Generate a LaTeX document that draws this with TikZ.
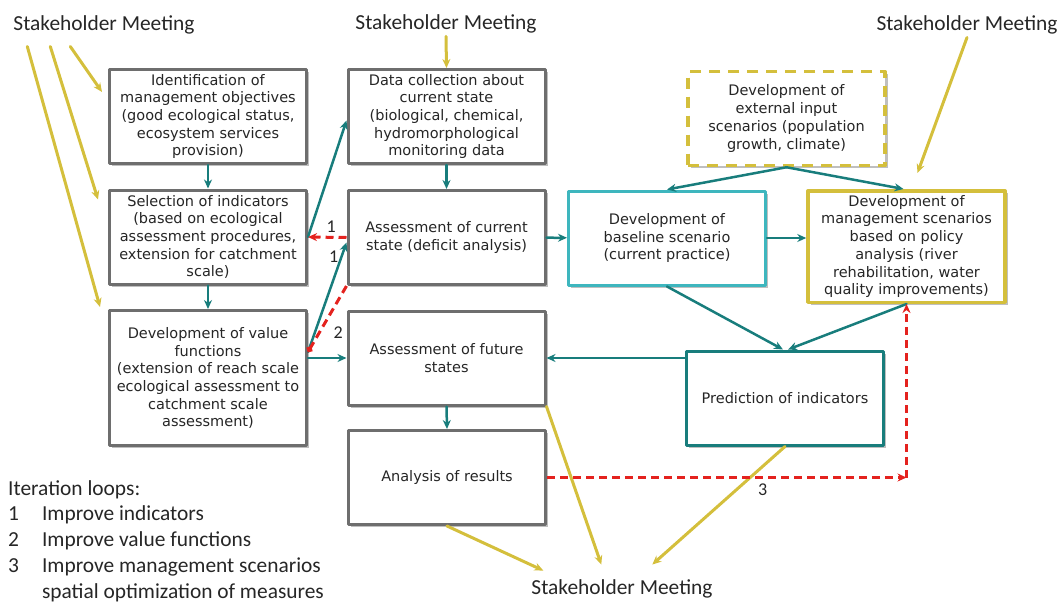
\documentclass[tikz,border=0pt]{standalone}
\usepackage{fontspec}
\setmainfont{DejaVu Sans}
\newfontfamily\labfont{Carlito}
\usetikzlibrary{calc,shadows,arrows.meta}
\definecolor{boxgray}{RGB}{110,110,110}
\definecolor{tealc}{RGB}{24,125,124}
\definecolor{cyanc}{RGB}{62,182,190}
\definecolor{yelc}{RGB}{212,191,60}
\definecolor{redc}{RGB}{228,34,30}
\tikzset{
  box/.style={draw=boxgray,line width=3pt,fill=white,minimum width=197pt,minimum height=94pt,
    align=center,inner sep=0pt,text=black!85,font=\fontsize{14.5}{17.7}\selectfont,
    drop shadow={shadow xshift=2.5pt,shadow yshift=-2.5pt,fill=black,opacity=.25}},
  meet/.style={inner sep=0pt,text=black!85,font=\labfont\fontsize{21.4}{25.8}\selectfont},
  num/.style={inner sep=1pt,text=black!85,font=\labfont\fontsize{18}{20}\selectfont},
  tarr/.style={->,draw=tealc,line width=2.5pt},
  yarr/.style={->,draw=yelc,line width=3pt},
  rarr/.style={->,draw=redc,line width=3pt,line cap=butt,dash pattern=on 8pt off 5pt},
}
\begin{document}
\begin{tikzpicture}[x=1pt,y=-1pt,>={Stealth[length=9pt,width=8pt]},line join=round,line cap=round]
\useasboundingbox (0,0) rectangle (1064,603);
% meetings
\node[meet] (skl) at (104,25) {Stakeholder Meeting};
\node[meet] (skm) at (446,24) {Stakeholder Meeting};
\node[meet] (skr) at (967,25) {Stakeholder Meeting};
\node[meet] (skb) at (622,589) {Stakeholder Meeting};
% boxes
\node[box] (obj) at (208,116.5) {Identification of\\management objectives\\(good ecological status,\\ecosystem services\\provision)};
\node[box] (ind) at (208,237) {Selection of indicators\\(based on ecological\\assessment procedures,\\extension for catchment\\scale)};
\node[box,minimum height=135pt] (val) at (208,378) {Development of value\\functions\\(extension of reach scale\\ecological assessment to\\catchment scale\\assessment)};
\node[box] (data) at (446.5,116.5) {Data collection about\\current state\\(biological, chemical,\\hydromorphological\\monitoring data};
\node[box] (cur) at (446.5,237.5) {Assessment of current\\state (deficit analysis)};
\node[box] (fut) at (446.5,358) {Assessment of future\\states};
\node[box] (res) at (447,477.5) {Analysis of results};
\node[box,draw=cyanc] (base) at (667,238) {Development of\\baseline scenario\\(current practice)};
\node[box,draw=yelc,line width=3.5pt,line cap=butt,dash pattern=on 11pt off 8pt] (ext) at (786.5,118.5) {Development of\\external input\\scenarios (population\\growth, climate)};
\node[box,draw=yelc,line width=3.5pt,minimum height=111.5pt] (mgmt) at (906.5,246.5) {Development of\\management scenarios\\based on policy\\analysis (river\\rehabilitation, water\\quality improvements)};
\node[box,draw=tealc] (pred) at (785,398) {Prediction of indicators};
% stakeholder input
\draw[yarr] ($(skl.south west)+(14,12)$) -- ($(val.north west)+(-8,-2)$);
\draw[yarr] ($(skl.south west)+(37,12)$) -- ($(ind.north west)+(-10,11)$);
\draw[yarr] ($(skl.south west)+(57,12)$) -- ($(obj.north west)+(-6,24)$);
\draw[yarr] ($(skm.south)+(0,3)$) -- (data.north);
\draw[yarr] ($(skr.south)+(0,3)$) -- ($(mgmt.north)+(11,-16)$);
\draw[yarr] (res.south) -- ($(skb.north west)+(12,-9)$);
\draw[yarr] (fut.south east) -- ($(skb.north west)+(70,-15)$);
\draw[yarr] (pred.south) -- ($(skb.north west)+(121,-15)$);
% work flow
\draw[tarr] (obj) -- (ind);
\draw[tarr] (ind) -- (val);
\draw[tarr] (data) -- (cur);
\draw[tarr] (fut.south) -- (res.north);
\draw[tarr] (cur) -- (base);
\draw[tarr] (base.east) -- (base.east -| mgmt.west);
\draw[tarr] (ind.east) -- ([yshift=-4pt]data.west);
\draw[tarr] ([yshift=26pt]val.east) -- ([yshift=-5pt]cur.west) node[pos=.87,left=1pt,num] {1};
\draw[tarr] (fut.west -| val.east) -- (fut.west);
\draw[tarr] (fut.east -| pred.west) -- (fut.east);
\draw[tarr] (ext.south) -- (base.north);
\draw[tarr] (ext.south) -- ([xshift=-3pt]mgmt.north);
\draw[tarr] (base.south) -- ([xshift=-2pt]pred.north);
\draw[tarr] (mgmt.south) -- ([xshift=3pt]pred.north);
% iteration loops
\coordinate (c3) at (mgmt.south |- res.east);
\draw[rarr] (cur.west) -- (ind.east) node[pos=.4,above=2pt,num] {1};
\draw[rarr,-{Circle[length=6pt]}] (cur.south west) -- ([yshift=26pt]val.east) node[pos=.71,right=12pt,num] {2};
\draw[rarr] (res.east) -- (c3) node[pos=.6,below=4pt,num] {3};
\draw[rarr] (c3) -- (mgmt.south);
% legend
\node[meet,anchor=base west] (legend) at (8,495) {\begin{tabular}[t]{@{}l@{\hspace{23pt}}l@{}}
\multicolumn{2}{@{}l}{Iteration loops:}\\
1&Improve indicators\\
2&Improve value functions\\
3&Improve management scenarios\\
&spatial optimization of measures
\end{tabular}};
\end{tikzpicture}
\end{document}
